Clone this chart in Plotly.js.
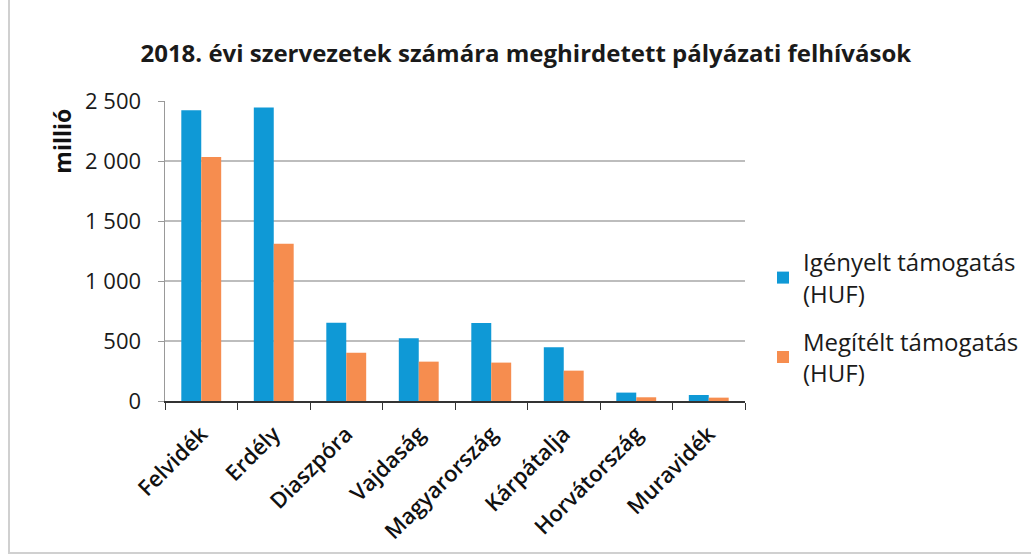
<!DOCTYPE html>
<html><head><meta charset="utf-8">
<script src="https://cdn.plot.ly/plotly-3.0.1.min.js"></script>
<style>
html,body{margin:0;padding:0;background:#fff;}
#wrap{position:relative;width:1031px;height:560px;}
#chart{position:absolute;left:0;top:0;width:1031px;height:560px;}
#frame{position:absolute;left:8px;top:-2px;width:1025px;height:556px;border:2px solid #d0d0d0;pointer-events:none;box-sizing:border-box;}
</style></head>
<body>
<div id="wrap"><div id="chart"></div><div id="frame"></div></div>
<script>
const categories = ["Felvidék","Erdély","Diaszpóra","Vajdaság","Magyarország","Kárpátalja","Horvátország","Muravidék"];
const requested = [2422, 2445, 653, 522, 650, 447, 70, 50];
const awarded = [2033, 1311, 403, 328, 320, 253, 31, 28];
const seriesNames = ["Igényelt támogatás<br>(HUF)", "Megítélt támogatás<br>(HUF)"];
const yTickVals = [0, 500, 1000, 1500, 2000, 2500];
const yTickText = ["0", "500", "1 000", "1 500", "2 000", "2 500"];
const titleText = "2018. évi szervezetek számára meghirdetett pályázati felhívások";
const yTitle = "millió";

const FONT = "Open Sans, Liberation Sans, sans-serif";
const data = [
  {type:"bar", x:categories, y:requested, name:seriesNames[0], legendgroup:"a", marker:{color:"#0F99D6"}},
  {type:"bar", x:categories, y:awarded, name:seriesNames[1], legendgroup:"b", marker:{color:"#F68D4F"}}
];
const layout = {
  width:1031, height:560,
  margin:{l:165, r:286, t:101, b:159, autoexpand:false},
  paper_bgcolor:"#fff", plot_bgcolor:"#fff",
  barmode:"group", bargap:0.45, bargroupgap:0,
  font:{family:FONT, color:"#222", size:18},
  title:{text:"<b>"+titleText+"</b>", x:0.51, xanchor:"center", y:0.905, yanchor:"middle", font:{family:FONT, size:24, color:"#1a1a1a"}},
  xaxis:{
    tickangle:-45, showline:true, linecolor:"#333", linewidth:1.5,
    ticks:"outside", ticklen:7, tickcolor:"#333", tickson:"boundaries",
    tickfont:{family:FONT, size:22, color:"#111", weight:600}, showgrid:false, automargin:false,
    ticklabelstandoff:10
  },
  yaxis:{
    range:[0,2500], tickvals:yTickVals, ticktext:yTickText,
    showline:true, linecolor:"#999", linewidth:1.5,
    ticks:"outside", ticklen:6, tickcolor:"#999",
    gridcolor:"#bdbdbd", gridwidth:1.5, zeroline:false, automargin:false,
    tickfont:{family:FONT, size:22, color:"#1a1a1a"}, ticklabelstandoff:12
  },
  legend:{x:1.031, y:0.537, xanchor:"left", yanchor:"top", font:{family:FONT, size:24, color:"#1a1a1a"}, itemwidth:30, tracegroupgap:14},
  annotations:[{
    text:"<b>"+yTitle+"</b>", xref:"paper", yref:"paper",
    x:-0.178, y:0.867, xanchor:"center", yanchor:"middle", textangle:-90, showarrow:false,
    font:{family:FONT, size:23, color:"#111"}
  }]
};
Plotly.newPlot("chart", data, layout, {displayModeBar:false, staticPlot:true});
</script>
</body></html>
